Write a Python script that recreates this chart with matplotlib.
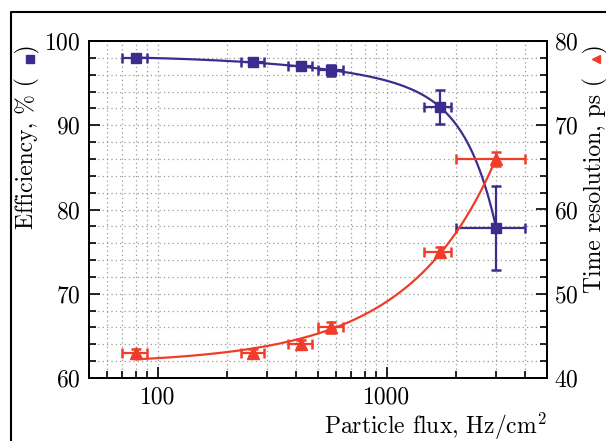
import numpy as np
import matplotlib
matplotlib.use("Agg")
from matplotlib import pyplot as plt
from matplotlib.lines import Line2D
from matplotlib.ticker import FixedLocator, FixedFormatter, MultipleLocator

# data
flux = [80, 260, 420, 570, 1700, 3000]
flux_err_lo = [10, 30, 50, 70, 250, 1000]
flux_err_hi = [10, 30, 50, 70, 200, 1000]

eff = [98.0, 97.5, 97.0, 96.5, 92.2, 77.8]
eff_err = [0.4, 0.4, 0.5, 0.7, 2.0, 5.0]

tres = [43.0, 43.0, 44.0, 46.0, 55.0, 66.0]
tres_err = [0.4, 0.4, 0.5, 0.6, 0.6, 0.8]

blue = "#3a2d8f"
red = "#f03c28"

plt.rcParams["font.family"] = "cmr10"
plt.rcParams["mathtext.fontset"] = "cm"
plt.rcParams["axes.formatter.use_mathtext"] = True
fs = 17

fig = plt.figure(figsize=(6.06, 4.41), dpi=100)
ax = fig.add_axes([89/606, 1-378/441, (547-89)/606, (378-41)/441])
ax2 = ax.twinx()

# fit curves through the points
xs = np.geomspace(flux[0], flux[-1], 300)
pe = np.polyfit(flux, eff, 3)
pt = np.polyfit(flux, tres, 2)
ax.plot(xs, np.polyval(pe, xs), color=blue, lw=1.6, zorder=3)
ax2.plot(xs, np.polyval(pt, xs), color=red, lw=1.6, zorder=3)

ax.errorbar(flux, eff, yerr=eff_err, xerr=[flux_err_lo, flux_err_hi], fmt="s",
            color=blue, ms=7.5, elinewidth=1.6, capsize=3.5, capthick=1.8, zorder=4)
ax2.errorbar(flux, tres, yerr=tres_err, xerr=[flux_err_lo, flux_err_hi], fmt="^",
             color=red, ms=8, elinewidth=1.6, capsize=3.5, capthick=1.8, zorder=4)

ax.set_xscale("log")
ax.set_xlim(50, 5000)
ax.set_ylim(60, 100)
ax2.set_ylim(40, 80)

ax.xaxis.set_major_locator(FixedLocator([100, 1000]))
ax.xaxis.set_major_formatter(FixedFormatter(["100", "1000"]))
minors = [60, 70, 80, 90] + list(range(200, 1000, 100)) + [2000, 3000, 4000]
ax.xaxis.set_minor_locator(FixedLocator(minors))
ax.xaxis.set_minor_formatter(FixedFormatter([""] * len(minors)))

ax.yaxis.set_major_locator(MultipleLocator(10))
ax.yaxis.set_minor_locator(MultipleLocator(2))
ax2.yaxis.set_major_locator(MultipleLocator(10))
ax2.yaxis.set_minor_locator(MultipleLocator(2))

ax.grid(True, which="both", color="#999999", linestyle=(0, (1, 2.5)), lw=0.9)
ax.set_axisbelow(True)

ax.tick_params(which="both", direction="in", top=False, right=False, labelsize=fs, width=1.2)
ax.tick_params(which="major", length=8, pad=6)
ax.tick_params(which="minor", length=5)
ax2.tick_params(which="both", direction="in", labelsize=fs, width=1.2)
ax2.tick_params(which="major", length=8, pad=5)
ax2.tick_params(which="minor", length=5)
for a in (ax, ax2):
    for s in a.spines.values():
        s.set_linewidth(1.3)

ax.set_xlabel("Particle flux, Hz/cm$^2$", fontsize=fs, loc="right", labelpad=2)

# axis titles with marker symbols
fig.text(27/606, 1-44/441, "Efficiency, % (   )", rotation=90, ha="center", va="top", fontsize=fs)
fig.add_artist(Line2D([30/606], [1-59/441], marker="s", ms=6, color=blue, transform=fig.transFigure))
fig.text(595/606, 1-44/441, "Time resolution, ps (   )", rotation=90, ha="center", va="top", fontsize=fs)
fig.add_artist(Line2D([596/606], [1-59/441], marker="<", ms=6, color=red, transform=fig.transFigure))

# outer frame
fig.add_artist(Line2D([11/606, 11/606, 1.0], [0.0, 1-12/441, 1-12/441], color="black", lw=1.5,
                      transform=fig.transFigure))

fig.savefig("out.png", dpi=100)
